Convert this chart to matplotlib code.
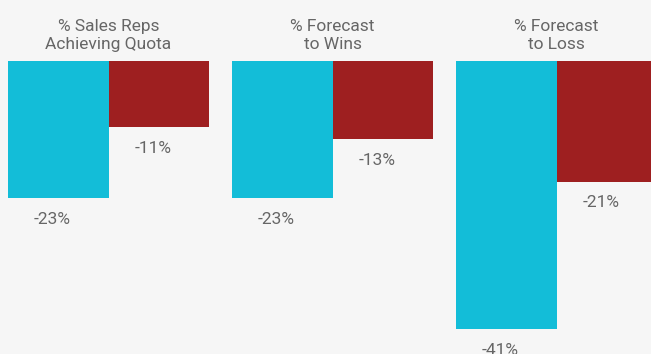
import matplotlib
matplotlib.use("Agg")
import matplotlib.pyplot as plt

titles = ["% Sales Reps\nAchieving Quota", "% Forecast\nto Wins", "% Forecast\nto Loss"]
cyan_vals = [-23.0, -23.0, -45.0]
red_vals = [-11.1, -13.1, -20.3]
cyan_labels = ["-23%", "-23%", "-41%"]
red_labels = ["-11%", "-13%", "-21%"]

BG = "#F6F6F6"
CYAN = "#13BDD8"
RED = "#9E1F20"
TXT = "#666666"
FAM = "Roboto"
WT = "normal"

W, H = 651, 354
fig = plt.figure(figsize=(W / 100, H / 100), dpi=100)
fig.patch.set_facecolor(BG)
ax = fig.add_axes([0, 0, 1, 1])
ax.set_facecolor(BG)
ax.axis("off")

step = 224.0
bw = 100.5 / step
left = -bw - 8 / step
ax.set_xlim(left, left + W / step)
pxu = 5.957
ax.set_ylim(-(H - 61) / pxu, 61 / pxu)

x = list(range(len(titles)))
ax.bar([i - bw / 2 for i in x], cyan_vals, width=bw, color=CYAN, linewidth=0)
ax.bar([i + bw / 2 for i in x], red_vals, width=bw, color=RED, linewidth=0)

fs = 12.5
for i in x:
    ax.annotate(titles[i], xy=(i, 0), xytext=(0, 8.5 * 0.72), textcoords="offset points",
                ha="center", va="bottom", fontsize=fs, color=TXT, family=FAM,
                weight=WT, linespacing=1.25)
    ax.annotate(cyan_labels[i], xy=(i - bw / 2, cyan_vals[i]), xytext=(-6 * 0.72, -13.5 * 0.72),
                textcoords="offset points", ha="center", va="top", fontsize=fs,
                color=TXT, family=FAM, weight=WT)
    ax.annotate(red_labels[i], xy=(i + bw / 2, red_vals[i]), xytext=(-6 * 0.72, -13.5 * 0.72),
                textcoords="offset points", ha="center", va="top", fontsize=fs,
                color=TXT, family=FAM, weight=WT)

fig.savefig("out.png", dpi=100, facecolor=BG)
